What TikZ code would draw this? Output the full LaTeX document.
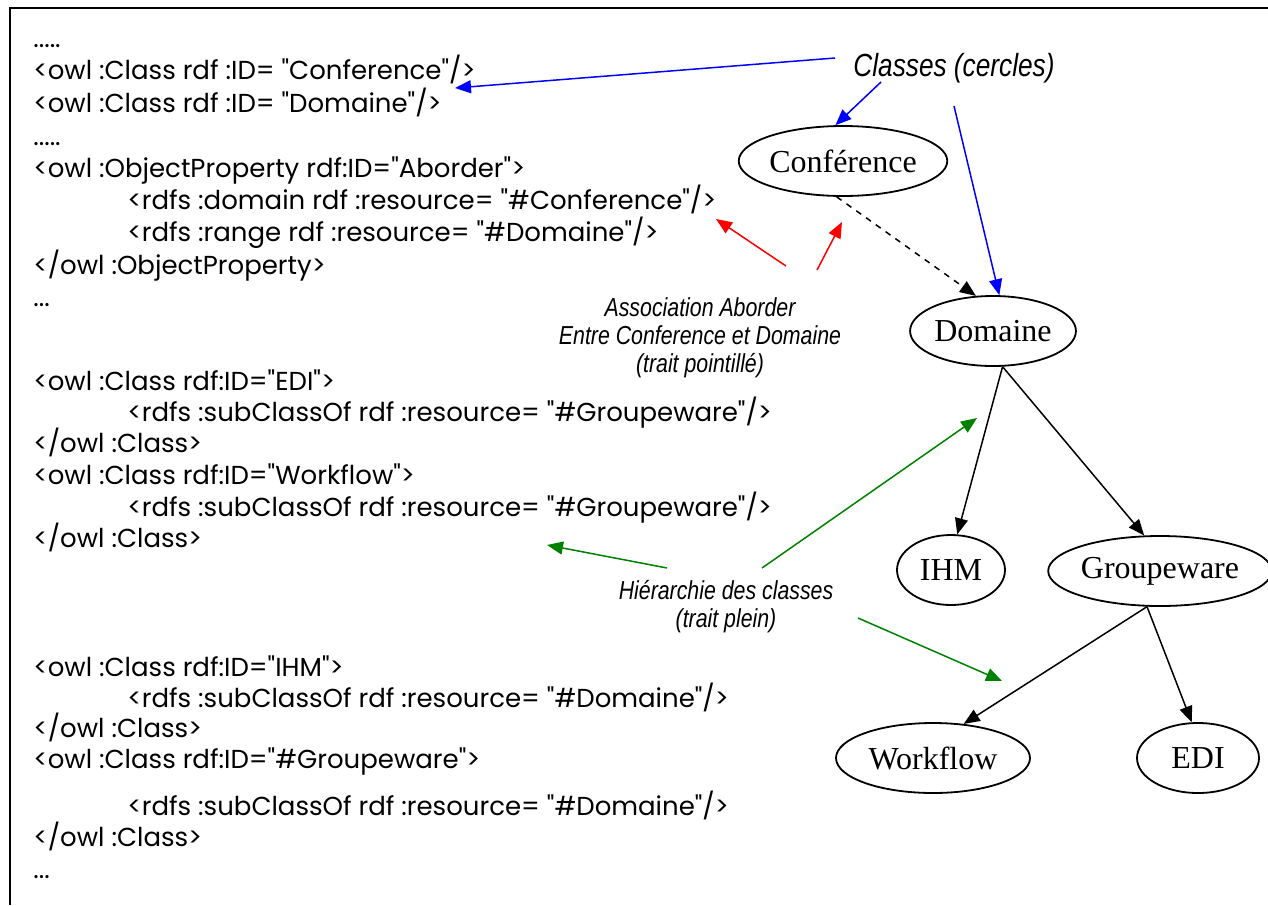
\documentclass[tikz,border=0pt]{standalone}
\usepackage{fontspec}
\setmainfont{Liberation Serif}
\newfontfamily\codefont{Poppins}
\newfontfamily\notefont[FakeStretch=0.82]{Liberation Sans}
\usetikzlibrary{arrows.meta,shapes.geometric}
\tikzset{
	code/.style={anchor=base west, inner sep=0pt, font=\codefont\fontsize{13}{15}\selectfont},
	classe/.style={draw, ellipse, line width=0.9pt, inner sep=0pt, minimum height=35pt, font=\fontsize{16}{18}\selectfont},
	note/.style={align=center, inner sep=0pt, font=\notefont\itshape\fontsize{13}{14}\selectfont},
	fleche/.style={line width=0.75pt, -{Triangle[length=8pt,width=6.5pt]}}
}

\begin{document}
\begin{tikzpicture}[x=0.5pt, y=-0.5pt]
			%%%%% START %%%%%
			
			\useasboundingbox (0,0) rectangle (1268,905);
			\draw[line width=1.2pt] (10,905) -- (10,8) -- (1268,8);
			
			% code owl
			\node[code] (p1) at (33,47) {.....};
			\node[code] (cconf) at (33,79) {<owl :Class rdf :ID= "Conference"/>};
			\node[code] (cdom) at (33,112) {<owl :Class rdf :ID= "Domaine"/>};
			\node[code] (p2) at (33,145) {.....};
			\node[code] (prop) at (33,177) {<owl :ObjectProperty rdf:ID="Aborder">};
			\node[code] (pdom) at (127,209) {<rdfs :domain rdf :resource= "\#Conference"/>};
			\node[code] (pran) at (127,241) {<rdfs :range rdf :resource= "\#Domaine"/>};
			\node[code] (pfin) at (33,274) {</owl :ObjectProperty>};
			\node[code] (p3) at (33,306) {...};
			
			\node[code] (cedi) at (33,390) {<owl :Class rdf:ID="EDI">};
			\node[code] (sedi) at (127,421) {<rdfs :subClassOf rdf :resource= "\#Groupeware"/>};
			\node[code] (fedi) at (33,452) {</owl :Class>};
			\node[code] (cwf) at (33,484) {<owl :Class rdf:ID="Workflow">};
			\node[code] (swf) at (127,516) {<rdfs :subClassOf rdf :resource= "\#Groupeware"/>};
			\node[code] (fwf) at (33,547) {</owl :Class>};
			
			\node[code] (cihm) at (33,676) {<owl :Class rdf:ID="IHM">};
			\node[code] (sihm) at (127,707) {<rdfs :subClassOf rdf :resource= "\#Domaine"/>};
			\node[code] (fihm) at (33,737) {</owl :Class>};
			\node[code] (cgrp) at (33,768) {<owl :Class rdf:ID="\#Groupeware">};
			\node[code] (sgrp) at (127,815) {<rdfs :subClassOf rdf :resource= "\#Domaine"/>};
			\node[code] (fgrp) at (33,846) {</owl :Class>};
			\node[code] (p4) at (33,878) {...};
			
			% classes
			\node[classe, minimum width=87pt] (conf) at (843,161) {Conférence};
			\node[classe, minimum width=66pt] (dom) at (993,331) {Domaine};
			\node[classe, minimum width=54pt] (ihm) at (951,570) {IHM};
			\node[classe, minimum width=110pt] (grp) at (1160,571) {Groupeware};
			\node[classe, minimum width=97pt] (wf) at (933,758) {Workflow};
			\node[classe, minimum width=61pt] (edi) at (1198,758) {EDI};
			
			\draw[fleche, dashed] (conf.260) -- (dom.116);
			\draw[fleche] (dom.285) -- (ihm.80);
			\draw[fleche] (dom.285) -- (grp.114);
			\draw[fleche] (grp.250) -- (wf.48);
			\draw[fleche] (grp.250) -- (edi.100);
			
			% notes
			\node[note, font=\notefont\itshape\fontsize{16}{18}\selectfont] (classes) at (954,68) {Classes (cercles)};
			\node[note] (assoc) at (700,338) {Association Aborder\\Entre Conference et Domaine\\(trait pointillé)};
			\node[note] (hier) at (726,607) {Hiérarchie des classes\\(trait plein)};
			
			\coordinate (b1) at (835,58);
			\coordinate (b2) at (881,82);
			\coordinate (b3) at (954,106);
			\coordinate (bcode) at (455,88);
			\draw[fleche, blue] (b1) -- (bcode);
			\draw[fleche, blue] (b2) -- (conf.102);
			\draw[fleche, blue] (b3) -- (dom.80);
			
			\coordinate (r1) at (786,266);
			\coordinate (r2) at (817,270);
			\coordinate (rcode) at (716,219);
			\coordinate (rlien) at (842,222);
			\draw[fleche, red] (r1) -- (rcode);
			\draw[fleche, red] (r2) -- (rlien);
			
			\coordinate (g1) at (667,568);
			\coordinate (g2) at (762,568);
			\coordinate (g3) at (858,618);
			\coordinate (gcode) at (547,545);
			\coordinate (gdom) at (977,418);
			\coordinate (ggrp) at (1002,681);
			\draw[fleche, green!50!black] (g1) -- (gcode);
			\draw[fleche, green!50!black] (g2) -- (gdom);
			\draw[fleche, green!50!black] (g3) -- (ggrp);
			
			%%%%% END %%%%%
\end{tikzpicture}
\end{document}
